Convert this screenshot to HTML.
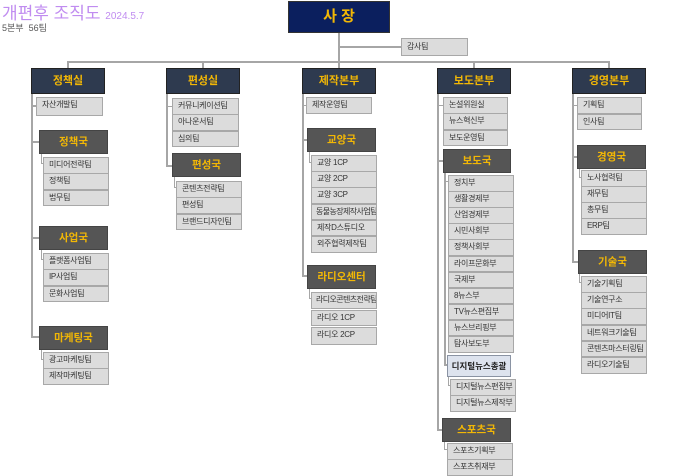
<!DOCTYPE html>
<html><head><meta charset="utf-8"><style>
*{margin:0;padding:0;box-sizing:border-box}
body{width:680px;height:472px;position:relative;overflow:hidden;background:#fff;font-family:"Liberation Sans","Noto Sans CJK KR",sans-serif}
div{position:absolute}
.l{background:#a6a6a6}
.top{background:#2e3a4f;color:#f2b705;font-weight:bold;font-size:11px;text-align:center;border:1px solid #222;line-height:24px;height:26px;width:74px}
.h{background:#555;color:#f2b705;font-weight:bold;font-size:10.5px;text-align:center;line-height:22px;height:24px;width:69px;border:1px solid #444}
.i{background:#dcdcdc;border:1px solid #a8a8a8;font-size:8px;letter-spacing:-0.3px;color:#333;padding-left:5px;line-height:14px;height:16.6px;white-space:nowrap;overflow:hidden}
</style></head><body>
<div style="left:2px;top:-1px;font-size:17px;color:#c08cf0;white-space:nowrap">개편후 조직도 <span style="font-size:10px">2024.5.7</span></div>
<div style="left:2px;top:21px;font-size:9px;color:#555;white-space:nowrap">5본부 &nbsp;56팀</div>

<div style="left:288px;top:1px;width:102px;height:32px;background:#0b1f5e;border:1px solid #333;color:#f2b705;font-weight:bold;font-size:15px;text-align:center;line-height:30px">사 장</div>
<div class="l" style="left:338px;top:33px;width:2px;height:35px"></div>
<div class="l" style="left:338px;top:46px;width:63px;height:2px"></div>
<div class="i" style="left:401px;top:38px;width:67px;height:18px;line-height:16px">감사팀</div>
<div class="l" style="left:67px;top:61px;width:543px;height:2px"></div>
<div class="l" style="left:67px;top:61px;width:2px;height:7px"></div>
<div class="l" style="left:202px;top:61px;width:2px;height:7px"></div>
<div class="l" style="left:473px;top:61px;width:2px;height:7px"></div>
<div class="l" style="left:608px;top:61px;width:2px;height:7px"></div>

<!-- col1 -->
<div class="top" style="left:31px;top:68px">정책실</div>
<div class="l" style="left:31px;top:94px;width:2px;height:243px"></div>
<div class="l" style="left:31px;top:105px;width:5px;height:2px"></div>
<div class="i" style="left:36px;top:97px;width:67px;height:19px">자산개발팀</div>
<div class="l" style="left:31px;top:141px;width:8px;height:2px"></div>
<div class="h" style="left:39px;top:130px">정책국</div>
<div class="l" style="left:41px;top:154px;width:1px;height:10px"></div><div class="l" style="left:41px;top:163px;width:3px;height:1px"></div>
<div class="i" style="left:43px;top:157px;width:66px">미디어전략팀</div>
<div class="i" style="left:43px;top:173px;width:66px">정책팀</div>
<div class="i" style="left:43px;top:189.5px;width:66px">법무팀</div>
<div class="l" style="left:31px;top:237px;width:8px;height:2px"></div>
<div class="h" style="left:39px;top:226px">사업국</div>
<div class="l" style="left:41px;top:250px;width:1px;height:10px"></div><div class="l" style="left:41px;top:259px;width:3px;height:1px"></div>
<div class="i" style="left:43px;top:253px;width:66px">플랫폼사업팀</div>
<div class="i" style="left:43px;top:269px;width:66px">IP사업팀</div>
<div class="i" style="left:43px;top:285.5px;width:66px">문화사업팀</div>
<div class="l" style="left:31px;top:336px;width:8px;height:2px"></div>
<div class="h" style="left:39px;top:326px">마케팅국</div>
<div class="l" style="left:41px;top:350px;width:1px;height:10px"></div><div class="l" style="left:41px;top:359px;width:3px;height:1px"></div>
<div class="i" style="left:43px;top:352px;width:66px">광고마케팅팀</div>
<div class="i" style="left:43px;top:368px;width:66px">제작마케팅팀</div>

<!-- col2 -->
<div class="top" style="left:166px;top:68px">편성실</div>
<div class="l" style="left:166px;top:94px;width:2px;height:72px"></div>
<div class="l" style="left:166px;top:106px;width:6px;height:1px"></div>
<div class="i" style="left:172px;top:98px;width:67px">커뮤니케이션팀</div>
<div class="i" style="left:172px;top:114px;width:67px">아나운서팀</div>
<div class="i" style="left:172px;top:130.5px;width:67px">심의팀</div>
<div class="l" style="left:166px;top:165px;width:6px;height:2px"></div>
<div class="h" style="left:172px;top:153px">편성국</div>
<div class="l" style="left:174px;top:177px;width:1px;height:11px"></div><div class="l" style="left:174px;top:187px;width:3px;height:1px"></div>
<div class="i" style="left:176px;top:181px;width:66px">콘텐츠전략팀</div>
<div class="i" style="left:176px;top:197px;width:66px">편성팀</div>
<div class="i" style="left:176px;top:213.5px;width:66px">브랜드디자인팀</div>

<!-- col3 -->
<div class="top" style="left:302px;top:68px">제작본부</div>
<div class="l" style="left:302px;top:94px;width:2px;height:183px"></div>
<div class="l" style="left:302px;top:105px;width:4px;height:1px"></div>
<div class="i" style="left:306px;top:97px;width:66px;height:17px">제작운영팀</div>
<div class="l" style="left:302px;top:139px;width:5px;height:2px"></div>
<div class="h" style="left:307px;top:128px">교양국</div>
<div class="l" style="left:309px;top:152px;width:1px;height:11px"></div><div class="l" style="left:309px;top:162px;width:3px;height:1px"></div>
<div class="i" style="left:311px;top:155px;width:66px">교양 1CP</div>
<div class="i" style="left:311px;top:171.2px;width:66px">교양 2CP</div>
<div class="i" style="left:311px;top:187.4px;width:66px">교양 3CP</div>
<div class="i" style="left:311px;top:203.6px;width:66px;letter-spacing:-0.6px;padding-left:4px">동물농장제작사업팀</div>
<div class="i" style="left:311px;top:219.8px;width:66px">제작D스튜디오</div>
<div class="i" style="left:311px;top:236px;width:66px">외주협력제작팀</div>
<div class="l" style="left:302px;top:275px;width:5px;height:2px"></div>
<div class="h" style="left:307px;top:265px">라디오센터</div>
<div class="l" style="left:309px;top:289px;width:1px;height:10px"></div><div class="l" style="left:309px;top:298px;width:3px;height:1px"></div>
<div class="i" style="left:311px;top:292px;width:66px;letter-spacing:-0.6px;padding-left:4px">라디오콘텐츠전략팀</div>
<div class="i" style="left:311px;top:309.5px;width:66px">라디오 1CP</div>
<div class="i" style="left:311px;top:327px;width:66px;height:18px">라디오 2CP</div>

<!-- col4 -->
<div class="top" style="left:437px;top:68px">보도본부</div>
<div class="l" style="left:437px;top:94px;width:2px;height:337px"></div>
<div class="l" style="left:437px;top:105px;width:6px;height:1px"></div>
<div class="i" style="left:443px;top:97px;width:65px">논설위원실</div>
<div class="i" style="left:443px;top:113px;width:65px">뉴스혁신부</div>
<div class="i" style="left:443px;top:129.5px;width:65px">보도운영팀</div>
<div class="l" style="left:437px;top:160px;width:6px;height:2px"></div>
<div class="h" style="left:443px;top:149px;width:68px">보도국</div>
<div class="l" style="left:444px;top:173px;width:2px;height:192px"></div>
<div class="l" style="left:444px;top:181px;width:4px;height:1px"></div>
<div class="i" style="left:448px;top:175px;width:66px">정치부</div>
<div class="i" style="left:448px;top:191.1px;width:66px">생활경제부</div>
<div class="i" style="left:448px;top:207.2px;width:66px">산업경제부</div>
<div class="i" style="left:448px;top:223.3px;width:66px">시민사회부</div>
<div class="i" style="left:448px;top:239.4px;width:66px">정책사회부</div>
<div class="i" style="left:448px;top:255.5px;width:66px">라이프문화부</div>
<div class="i" style="left:448px;top:271.6px;width:66px">국제부</div>
<div class="i" style="left:448px;top:287.7px;width:66px">8뉴스부</div>
<div class="i" style="left:448px;top:303.8px;width:66px">TV뉴스편집부</div>
<div class="i" style="left:448px;top:319.9px;width:66px">뉴스브리핑부</div>
<div class="i" style="left:448px;top:336px;width:66px">탐사보도부</div>
<div class="l" style="left:444px;top:364px;width:3px;height:2px"></div>
<div style="left:447px;top:355px;width:64px;height:22px;background:#dde3ee;border:1px solid #8a93a3;font-size:8.5px;font-weight:bold;color:#222;text-align:center;line-height:20px">디지털뉴스총괄</div>
<div class="l" style="left:448px;top:377px;width:1px;height:9px"></div><div class="l" style="left:448px;top:385px;width:3px;height:1px"></div>
<div class="i" style="left:450px;top:379px;width:66px">디지털뉴스편집부</div>
<div class="i" style="left:450px;top:395px;width:66px">디지털뉴스제작부</div>
<div class="l" style="left:437px;top:429px;width:6px;height:2px"></div>
<div class="h" style="left:442px;top:418px">스포츠국</div>
<div class="l" style="left:444px;top:442px;width:1px;height:8px"></div><div class="l" style="left:444px;top:449px;width:3px;height:1px"></div>
<div class="i" style="left:447px;top:443px;width:66px">스포츠기획부</div>
<div class="i" style="left:447px;top:459px;width:66px">스포츠취재부</div>

<!-- col5 -->
<div class="top" style="left:572px;top:68px">경영본부</div>
<div class="l" style="left:572px;top:94px;width:2px;height:169px"></div>
<div class="l" style="left:572px;top:105px;width:5px;height:1px"></div>
<div class="i" style="left:577px;top:97px;width:65px">기획팀</div>
<div class="i" style="left:577px;top:113.5px;width:65px">인사팀</div>
<div class="l" style="left:572px;top:156px;width:5px;height:2px"></div>
<div class="h" style="left:577px;top:145px">경영국</div>
<div class="l" style="left:579px;top:169px;width:1px;height:9px"></div><div class="l" style="left:579px;top:177px;width:3px;height:1px"></div>
<div class="i" style="left:581px;top:170px;width:66px">노사협력팀</div>
<div class="i" style="left:581px;top:186px;width:66px">재무팀</div>
<div class="i" style="left:581px;top:202px;width:66px">총무팀</div>
<div class="i" style="left:581px;top:218px;width:66px">ERP팀</div>
<div class="l" style="left:572px;top:261px;width:6px;height:2px"></div>
<div class="h" style="left:578px;top:250px">기술국</div>
<div class="l" style="left:579px;top:274px;width:1px;height:9px"></div><div class="l" style="left:579px;top:282px;width:3px;height:1px"></div>
<div class="i" style="left:581px;top:276px;width:66px">기술기획팀</div>
<div class="i" style="left:581px;top:292.2px;width:66px">기술연구소</div>
<div class="i" style="left:581px;top:308.4px;width:66px">미디어IT팀</div>
<div class="i" style="left:581px;top:324.6px;width:66px">네트워크기술팀</div>
<div class="i" style="left:581px;top:340.8px;width:66px">콘텐츠마스터링팀</div>
<div class="i" style="left:581px;top:357px;width:66px">라디오기술팀</div>
</body></html>
